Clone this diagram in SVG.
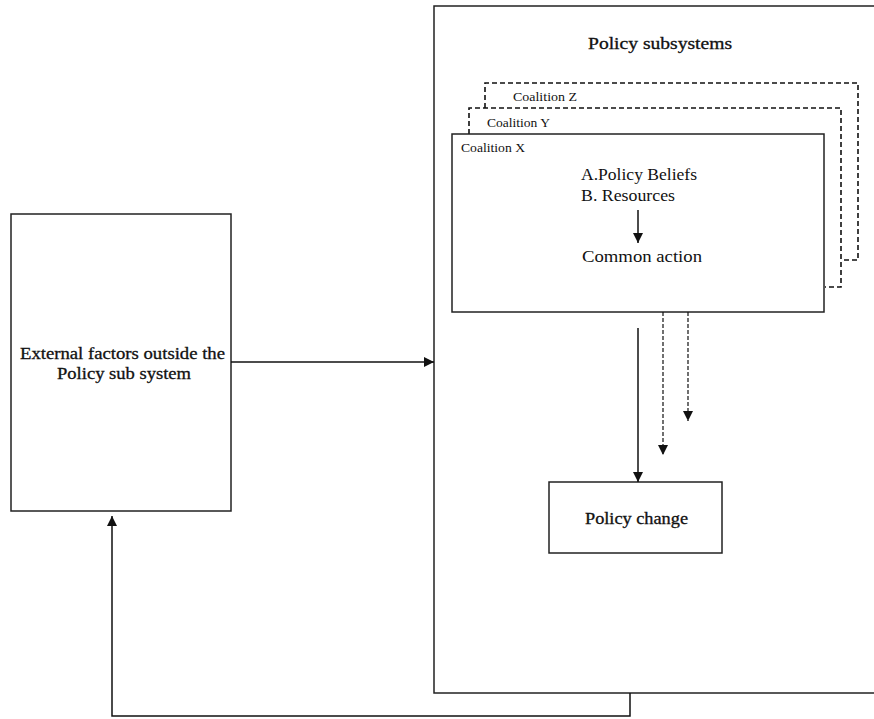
<svg xmlns="http://www.w3.org/2000/svg" width="874" height="719" viewBox="0 0 874 719">
<style>
.box{fill:#fff;stroke:#222;stroke-width:1.5}
.dash{fill:none;stroke:#111;stroke-width:1.6;stroke-dasharray:5,3}
.ln{fill:none;stroke:#111;stroke-width:1.5}
.dl{fill:none;stroke:#111;stroke-width:1.2;stroke-dasharray:4,2}
text{font-family:"Liberation Serif","DejaVu Serif",serif;fill:#111}
.b{font-size:16px;stroke:#111;stroke-width:0.3}
.n{font-size:16px}
.s{font-size:13px}
</style>
<defs>
<marker id="ah" viewBox="0 0 10 10" refX="10" refY="5" markerWidth="10" markerHeight="10" markerUnits="userSpaceOnUse" orient="auto">
<path d="M0,0 L10,5 L0,10 z" fill="#111"/>
</marker>
</defs>
<g id="policy-subsystems">
<rect class="box" x="434" y="6" width="446" height="687"/>
<text class="b" x="588" y="49" textLength="144" lengthAdjust="spacingAndGlyphs">Policy subsystems</text>
</g>
<g id="coalition-z">
<path class="dash" d="M485,108 V83 H858 V260 H841"/>
<text class="s" x="513" y="101" textLength="64" lengthAdjust="spacingAndGlyphs">Coalition Z</text>
</g>
<g id="coalition-y">
<path class="dash" d="M469,134 V108 H841 V287 H825"/>
<text class="s" x="487" y="127" textLength="63" lengthAdjust="spacingAndGlyphs">Coalition Y</text>
</g>
<g id="coalition-x">
<rect class="box" x="452" y="134" width="372" height="178"/>
<text class="s" x="461" y="152" textLength="64" lengthAdjust="spacingAndGlyphs">Coalition X</text>
<text class="n" x="581" y="180" textLength="116" lengthAdjust="spacingAndGlyphs">A.Policy Beliefs</text>
<text class="n" x="581" y="201" textLength="94" lengthAdjust="spacingAndGlyphs">B. Resources</text>
<text class="n" x="582" y="262" textLength="120" lengthAdjust="spacingAndGlyphs">Common action</text>
</g>
<g id="external-factors">
<rect class="box" x="11" y="214" width="220" height="297"/>
<text class="b" x="20" y="359" textLength="205" lengthAdjust="spacingAndGlyphs">External factors outside the</text>
<text class="b" x="57" y="379" textLength="134" lengthAdjust="spacingAndGlyphs">Policy sub system</text>
</g>
<g id="policy-change">
<rect class="box" x="549" y="482" width="173" height="71"/>
<text class="b" x="585" y="524" textLength="103" lengthAdjust="spacingAndGlyphs">Policy change</text>
</g>
<g id="connectors">
<line class="ln" x1="638" y1="210" x2="638" y2="243" marker-end="url(#ah)"/>
<line class="ln" x1="231" y1="362" x2="434" y2="362" marker-end="url(#ah)"/>
<line class="ln" x1="638" y1="328" x2="638" y2="482" marker-end="url(#ah)"/>
<line class="dl" x1="663" y1="312" x2="663" y2="455" marker-end="url(#ah)"/>
<line class="dl" x1="688" y1="312" x2="688" y2="421" marker-end="url(#ah)"/>
<path class="ln" d="M630,693 V716 H112 V516" marker-end="url(#ah)"/>
</g>
</svg>
